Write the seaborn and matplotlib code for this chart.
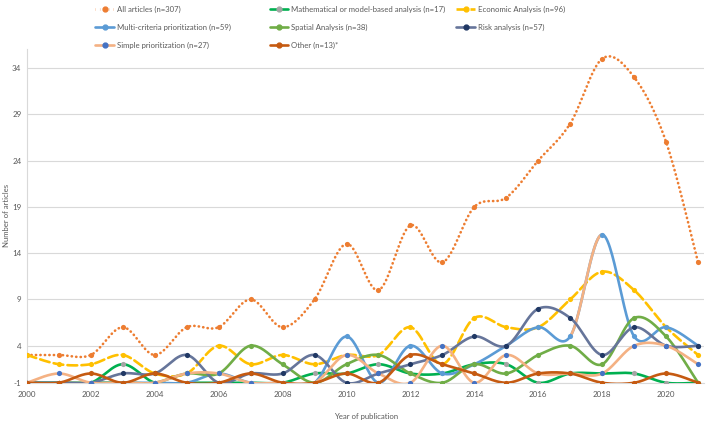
import numpy as np
import matplotlib
matplotlib.use("Agg")
import matplotlib.pyplot as plt
import seaborn as sns
from matplotlib.lines import Line2D

years = list(range(2000, 2022))

all_articles = [3, 3, 3, 6, 3, 6, 6, 9, 6, 9, 15, 10, 17, 13, 19, 20, 24, 28, 35, 33, 26, 13]
mathematical = [0, 0, 0, 2, 0, 0, 0, 0, 0, 1, 1, 2, 1, 1, 2, 2, 0, 1, 1, 1, 0, 0]
economic = [3, 2, 2, 3, 1, 1, 4, 2, 3, 2, 3, 3, 6, 2, 7, 6, 6, 9, 12, 10, 6, 3]
multi_criteria = [0, 0, 0, 0, 0, 0, 1, 0, 0, 0, 5, 0, 4, 1, 2, 4, 6, 5, 16, 5, 6, 4]
spatial = [0, 0, 0, 0, 0, 1, 1, 4, 2, 0, 2, 3, 1, 0, 2, 1, 3, 4, 2, 7, 5, 0]
risk = [0, 0, 0, 1, 1, 3, 0, 1, 1, 3, 0, 1, 2, 3, 5, 4, 8, 7, 3, 6, 4, 4]
simple = [0, 1, 0, 0, 0, 1, 1, 0, 0, 0, 3, 1, 0, 4, 0, 3, 1, 1, 1, 4, 4, 2]
other = [0, 0, 1, 0, 1, 0, 0, 1, 0, 0, 1, 0, 3, 2, 1, 0, 1, 1, 0, 0, 1, 0]

dotted = (0, (0.1, 1.6))
series = [
    ("All articles (n=307)", all_articles, "#ED7D31", "#ED7D31", dotted),
    ("Mathematical or model-based analysis (n=17)", mathematical, "#00B050", "#A5A5A5", "-"),
    ("Economic Analysis (n=96)", economic, "#FFC000", "#FFC000", "--"),
    ("Multi-criteria prioritization (n=59)", multi_criteria, "#5B9BD5", "#5B9BD5", "-"),
    ("Spatial Analysis (n=38)", spatial, "#70AD47", "#70AD47", "-"),
    ("Risk analysis (n=57)", risk, "#66759A", "#203864", "-"),
    ("Simple prioritization (n=27)", simple, "#F4B183", "#4472C4", "-"),
    ("Other (n=13)*", other, "#C55A11", "#C55A11", "-"),
]


def smooth(x, y, n=30):
    # excel-style smoothed line: bezier with 1/6 neighbour tangents
    x = np.asarray(x, float)
    y = np.asarray(y, float)
    px = np.concatenate([[x[0]], x, [x[-1]]])
    py = np.concatenate([[y[0]], y, [y[-1]]])
    t = np.linspace(0, 1, n)
    xs, ys = [], []
    for i in range(1, len(px) - 2):
        p0 = np.array([px[i], py[i]])
        p3 = np.array([px[i + 1], py[i + 1]])
        c1 = p0 + (np.array([px[i + 1], py[i + 1]]) - np.array([px[i - 1], py[i - 1]])) / 6
        c2 = p3 - (np.array([px[i + 2], py[i + 2]]) - np.array([px[i], py[i]])) / 6
        b = ((1 - t) ** 3)[:, None] * p0 + (3 * (1 - t) ** 2 * t)[:, None] * c1 \
            + (3 * (1 - t) * t ** 2)[:, None] * c2 + (t ** 3)[:, None] * p3
        xs.append(b[:, 0])
        ys.append(b[:, 1])
    return np.concatenate(xs), np.concatenate(ys)


sns.set_style("white")
plt.rcParams['font.family'] = ['Lato', 'DejaVu Sans']

fig, ax = plt.subplots(figsize=(7.08, 4.22), dpi=100)
fig.subplots_adjust(left=0.038, right=0.995, top=0.885, bottom=0.093)

for i, (label, vals, lc, mc, ls) in enumerate(series):
    sx, sy = smooth(years, vals)
    ax.plot(sx, sy, color=lc, lw=1.9, ls=ls, zorder=2 + i,
            dash_capstyle="round", solid_capstyle="round")
    if vals is multi_criteria:
        # the 2017-2018 segment of this series is formatted in peach
        seg = (sx >= 2017) & (sx <= 2018)
        ax.plot(sx[seg], sy[seg], color="#F4B183", lw=1.9, zorder=2 + i,
                solid_capstyle="round")
    sns.scatterplot(x=years, y=vals, color=mc, s=14, edgecolor=mc, linewidth=0,
                    ax=ax, zorder=3 + i)

ax.set_xlim(2000, 2021.2)
ax.set_ylim(0, 36.1)
yticks = [0, 4, 9, 14, 19, 24, 29, 34]
ax.set_yticks(yticks)
ax.set_yticklabels(["-1", "4", "9", "14", "19", "24", "29", "34"])
ax.set_xticks(range(2000, 2021, 2))
ax.grid(axis="y", color="#D9D9D9", lw=0.8)
ax.tick_params(labelsize=5.8, colors="#595959", length=0)
ax.tick_params(axis="x", pad=6)
ax.tick_params(axis="y", pad=4)
for s in ["top", "right"]:
    ax.spines[s].set_visible(False)
ax.spines["left"].set_color("#D9D9D9")
ax.spines["bottom"].set_color("#D9D9D9")
ax.set_xlabel("Year of publication", fontsize=5.6, color="#595959")
ax.set_ylabel("Number of articles", fontsize=5.6, color="#595959")
ax.xaxis.set_label_coords(0.5, -0.09)
ax.yaxis.set_label_coords(-0.025, 0.5)

handles = []
for label, vals, lc, mc, ls in series:
    handles.append(Line2D([0], [0], color=lc, lw=1.9, ls=ls, marker="o",
                          markersize=3.5, markerfacecolor=mc, markeredgecolor=mc,
                          label=label))

columns = [([0, 3, 6], 0.127), ([1, 4, 7], 0.373), ([2, 5], 0.637)]
for idx, xpos in columns:
    leg = fig.legend([handles[k] for k in idx], [series[k][0] for k in idx],
                     loc="upper left", bbox_to_anchor=(xpos, 1.0),
                     frameon=False, fontsize=5.6, handlelength=2.4,
                     handletextpad=0.4, labelspacing=1.4, borderpad=0.2)
    for t in leg.get_texts():
        t.set_color("#595959")

fig.savefig("out.png", dpi=100)
